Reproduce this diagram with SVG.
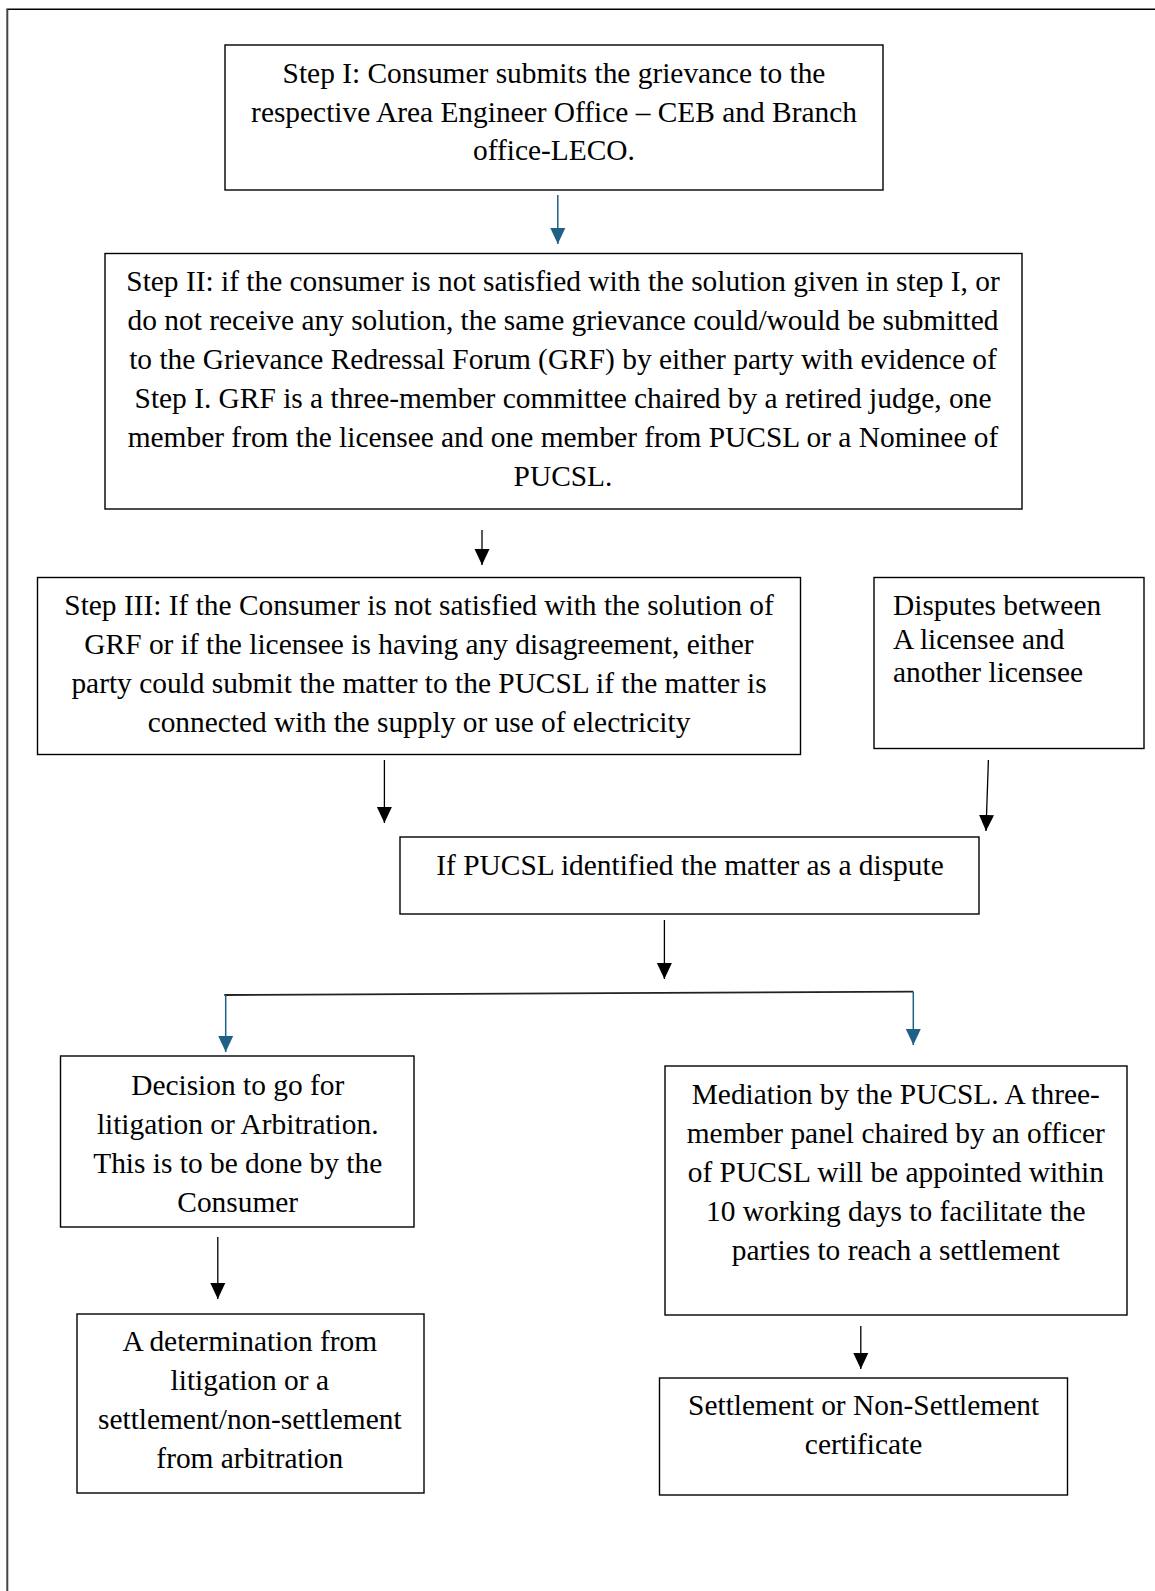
<svg xmlns="http://www.w3.org/2000/svg" width="1155" height="1591" viewBox="0 0 1155 1591">
<style>
.box{fill:#fff;stroke:#000;stroke-width:1.4}
.t{font-family:"Liberation Serif","Times New Roman",serif;font-size:29.4px;fill:#000}
.c{text-anchor:middle}
.blk{stroke:#000;stroke-width:1.3;fill:none}
.blu{stroke:#1F6087;stroke-width:1.5;fill:none}
</style>
<defs>
<marker id="ab" markerUnits="userSpaceOnUse" markerWidth="16" markerHeight="16" refX="16" refY="7.5" orient="auto" viewBox="0 0 16 15">
<path d="M0,0 L16,7.5 L0,15 Z" fill="#000"/>
</marker>
<marker id="au" markerUnits="userSpaceOnUse" markerWidth="16" markerHeight="16" refX="16" refY="7.5" orient="auto" viewBox="0 0 16 15">
<path d="M0,0 L16,7.5 L0,15 Z" fill="#1F6087"/>
</marker>
</defs>
<rect width="1155" height="1591" fill="#fff"/>
<g id="frame">
<line x1="6.5" y1="9.3" x2="1155" y2="9.3" stroke="#000" stroke-width="1.5"/>
<line x1="7.3" y1="9" x2="7.3" y2="1591" stroke="#444" stroke-width="2"/>
</g>
<g id="step1">
<rect class="box" x="225" y="45" width="658" height="145"/>
<text class="t c" x="554" y="83">Step I: Consumer submits the grievance to the</text>
<text class="t c" x="554" y="121.5">respective Area Engineer Office – CEB and Branch</text>
<text class="t c" x="554" y="160">office-LECO.</text>
</g>
<g id="step2">
<rect class="box" x="105" y="253.5" width="917" height="255.5"/>
<text class="t c" x="563" y="291">Step II: if the consumer is not satisfied with the solution given in step I, or</text>
<text class="t c" x="563" y="330">do not receive any solution, the same grievance could/would be submitted</text>
<text class="t c" x="563" y="369">to the Grievance Redressal Forum (GRF) by either party with evidence of</text>
<text class="t c" x="563" y="408">Step I. GRF is a three-member committee chaired by a retired judge, one</text>
<text class="t c" x="563" y="447">member from the licensee and one member from PUCSL or a Nominee of</text>
<text class="t c" x="563" y="486">PUCSL.</text>
</g>
<g id="step3">
<rect class="box" x="37.5" y="577.5" width="763" height="177"/>
<text class="t c" x="419" y="615">Step III: If the Consumer is not satisfied with the solution of</text>
<text class="t c" x="419" y="654">GRF or if the licensee is having any disagreement, either</text>
<text class="t c" x="419" y="693">party could submit the matter to the PUCSL if the matter is</text>
<text class="t c" x="419" y="732">connected with the supply or use of electricity</text>
</g>
<g id="disputes">
<rect class="box" x="874" y="577.5" width="270" height="171"/>
<text class="t" x="893" y="615">Disputes between</text>
<text class="t" x="893" y="648.5">A licensee and</text>
<text class="t" x="893" y="682">another licensee</text>
</g>
<g id="identified">
<rect class="box" x="400" y="837" width="579" height="77"/>
<text class="t c" x="690" y="875">If PUCSL identified the matter as a dispute</text>
</g>
<g id="decision">
<rect class="box" x="60.5" y="1056" width="353.5" height="171"/>
<text class="t c" x="237.7" y="1095">Decision to go for</text>
<text class="t c" x="237.7" y="1134">litigation or Arbitration.</text>
<text class="t c" x="237.7" y="1173">This is to be done by the</text>
<text class="t c" x="237.7" y="1212">Consumer</text>
</g>
<g id="mediation">
<rect class="box" x="665" y="1066" width="462" height="249"/>
<text class="t c" x="895.8" y="1104">Mediation by the PUCSL. A three-</text>
<text class="t c" x="895.8" y="1143">member panel chaired by an officer</text>
<text class="t c" x="895.8" y="1182">of PUCSL will be appointed within</text>
<text class="t c" x="895.8" y="1221">10 working days to facilitate the</text>
<text class="t c" x="895.8" y="1260">parties to reach a settlement</text>
</g>
<g id="determination">
<rect class="box" x="77" y="1314" width="347" height="179"/>
<text class="t c" x="249.8" y="1351">A determination from</text>
<text class="t c" x="249.8" y="1390">litigation or a</text>
<text class="t c" x="249.8" y="1429">settlement/non-settlement</text>
<text class="t c" x="249.8" y="1468">from arbitration</text>
</g>
<g id="settlement">
<rect class="box" x="659.5" y="1378" width="408" height="117"/>
<text class="t c" x="863.6" y="1415">Settlement or Non-Settlement</text>
<text class="t c" x="863.6" y="1453.5">certificate</text>
</g>
<g id="connectors">
<line class="blu" x1="557.8" y1="195" x2="557.8" y2="244" marker-end="url(#au)"/>
<line class="blk" x1="482" y1="530" x2="482" y2="565" marker-end="url(#ab)"/>
<line class="blk" x1="384.4" y1="760" x2="384.4" y2="823" marker-end="url(#ab)"/>
<line class="blk" x1="988.4" y1="760" x2="986" y2="831" marker-end="url(#ab)"/>
<line class="blk" x1="664.4" y1="920" x2="664.4" y2="979" marker-end="url(#ab)"/>
<line x1="224.3" y1="995" x2="913.3" y2="991.7" stroke="#222" stroke-width="1.8"/>
<line class="blu" x1="225.7" y1="995" x2="225.7" y2="1052" marker-end="url(#au)"/>
<line class="blu" x1="913.3" y1="991.7" x2="913.3" y2="1045" marker-end="url(#au)"/>
<line class="blk" x1="217.8" y1="1237" x2="217.8" y2="1299" marker-end="url(#ab)"/>
<line class="blk" x1="860.8" y1="1326" x2="860.8" y2="1369" marker-end="url(#ab)"/>
</g>
</svg>
